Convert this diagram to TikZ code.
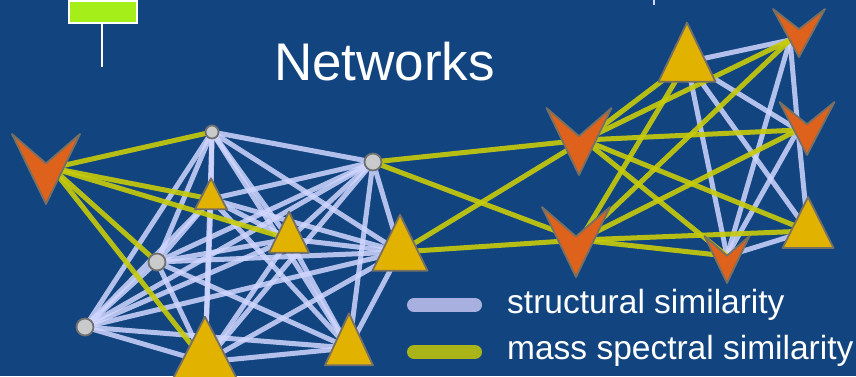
\documentclass[tikz,border=0pt]{standalone}
\usepackage{fontspec}
\setmainfont{Liberation Sans}
\definecolor{bg}{RGB}{18,69,127}
\definecolor{lav}{RGB}{208,214,255}
\definecolor{oli}{RGB}{200,204,10}
\definecolor{gold}{RGB}{225,178,0}
\definecolor{orng}{RGB}{222,98,28}
\definecolor{outl}{RGB}{118,112,100}
\definecolor{dotfill}{RGB}{200,202,204}
\definecolor{dotline}{RGB}{112,112,112}
\definecolor{leglav}{RGB}{168,176,224}
\definecolor{legoli}{RGB}{168,180,24}
\definecolor{boxgreen}{RGB}{166,238,26}
\tikzset{
  sedge/.style={draw=lav,line width=5pt,draw opacity=0.85},
  medge/.style={draw=oli,line width=5pt,draw opacity=0.9},
  shapeline/.style={draw=outl,line width=1.8pt,line join=round},
  pics/tri/.style n args={2}{code={\path[shapeline,fill=gold] (0,{-2*#2/3}) -- ({#1/2},{#2/3}) -- ({-#1/2},{#2/3}) -- cycle;}},
  pics/chev/.style n args={2}{code={\path[shapeline,fill=orng] ({-#1/2},0) -- (0,{0.42*#2}) -- ({#1/2},0) -- (0,{#2}) -- cycle;}},
  graydot/.style={circle,draw=dotline,fill=dotfill,line width=1.8pt,inner sep=0pt,minimum size=#1},
  legbar/.style={line width=14pt,line cap=round},
  legtext/.style={anchor=base west,inner sep=0pt,text=white,font=\fontsize{33.5}{36}\selectfont},
}
\begin{document}
\begin{tikzpicture}[x=1pt,y=-1pt]
\fill[bg] (0,0) rectangle (856,376);
\useasboundingbox (0,0) rectangle (856,376);

% icon at top left
\path[fill=boxgreen,draw=white,line width=2.5pt] (69,1) rectangle (137,23);
\draw[white,line width=2pt] (102,24) -- (102,67);
\draw[lav,line width=2pt] (654,-1) -- (654,5);

% connection points
\coordinate (v1) at (52,168);
\coordinate (g1) at (212,132);
\coordinate (g2) at (373,162);
\coordinate (g3) at (157,262);
\coordinate (g4) at (85,327);
\coordinate (t1) at (211,199);
\coordinate (t2) at (289,239);
\coordinate (t3) at (400,252);
\coordinate (t4) at (205,362);
\coordinate (t5) at (349,348);
\coordinate (t6) at (687,62);
\coordinate (t7) at (808,231);
\coordinate (v2) at (790,40);
\coordinate (v3) at (798,130);
\coordinate (v4) at (584,140);
\coordinate (v5) at (580,240);
\coordinate (v6) at (727,256);

% structural similarity (left cluster: complete graph)
\foreach \a [count=\i] in {g1,g2,g3,g4,t1,t2,t3,t4,t5}{
  \foreach \b [count=\j] in {g1,g2,g3,g4,t1,t2,t3,t4,t5}{
    \ifnum\j>\i \draw[sedge] (\a) -- (\b); \fi
  }
}
% structural similarity (right cluster)
\foreach \a/\b in {t6/v2,t6/v3,t6/t7,t6/v6,v2/v3,v3/t7,v2/v6,v3/v6,t7/v6}
  \draw[sedge] (\a) -- (\b);

% mass spectral similarity
\foreach \a/\b in {v1/g1,v1/t1,v1/t2,v1/g3,v1/t4,
  g2/v4,g2/v5,t3/v4,t3/v5,
  v4/t6,v4/v2,v4/v3,v4/t7,v4/v6,
  v5/t6,v5/v2,v5/v3,v5/t7,v5/v6}
  \draw[medge] (\a) -- (\b);

% shapes
\node[graydot=13pt] (g1n) at (g1) {};
\node[graydot=17pt] (g2n) at (g2) {};
\node[graydot=17pt] (g3n) at (g3) {};
\node[graydot=17pt] (g4n) at (g4) {};
\pic at (t1) {tri={32}{31}};
\pic at (t2) {tri={40}{41}};
\pic at (t3) {tri={55}{56}};
\pic at (t4) {tri={70}{68}};
\pic at (t5) {tri={48}{52}};
\pic at (t6) {tri={57}{59}};
\pic at (t7) {tri={51}{51}};
\pic at (46,134) {chev={68}{70}};
\pic at (799,9) {chev={52}{48}};
\pic at (807,102) {chev={55}{53}};
\pic at (579,108) {chev={65}{67}};
\pic at (576,207) {chev={68}{70}};
\pic at (727,236) {chev={45}{47}};

% legend
\draw[leglav,legbar] (414,305) -- (475,305);
\draw[legoli,legbar] (414,352) -- (475,352);
\node[legtext] (leg1) at (507,313) {structural similarity};
\node[legtext] (leg2) at (507,359) {mass spectral similarity};

% title
\node[anchor=base,inner sep=0pt,text=white,font=\fontsize{53}{60}\selectfont] (title) at (384.5,80) {Networks};
\end{tikzpicture}
\end{document}
